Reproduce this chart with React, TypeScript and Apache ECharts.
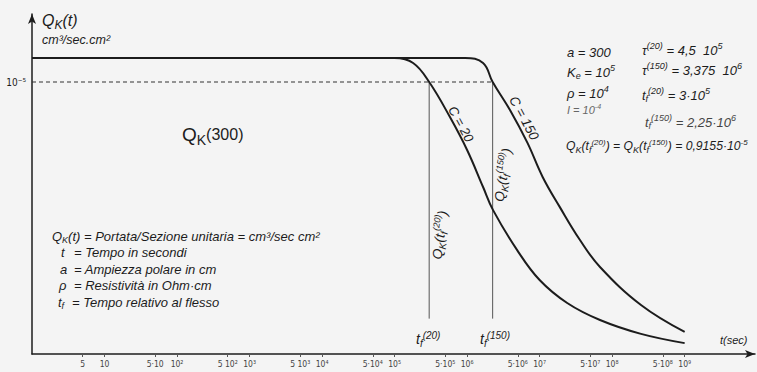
import React, { useEffect, useRef } from 'react';
import * as echarts from 'echarts';

// time (s) and Q_K (cm3/sec cm2)
const tC20 = [1, 1e5, 1.8e5, 3e5, 5.8e5, 1e6, 1.66e6, 2.28e6, 4.9e6, 1e7, 2.4e7, 6.8e7, 2.5e8, 1e9];
const qC20 = [1.088e-5, 1.088e-5, 1.07e-5, 1.0e-5, 0.871e-5, 0.75e-5, 0.614e-5, 0.529e-5, 0.382e-5, 0.272e-5, 0.1875e-5, 0.125e-5, 0.074e-5, 0.04e-5];
const tC150 = [1, 9.4e5, 1.66e6, 2.25e6, 3.9e6, 6.8e6, 1.1e7, 1.9e7, 3.6e7, 6.8e7, 2.5e8, 1e9];
const qC150 = [1.088e-5, 1.088e-5, 1.07e-5, 1.0e-5, 0.897e-5, 0.776e-5, 0.651e-5, 0.54e-5, 0.419e-5, 0.32e-5, 0.18e-5, 0.081e-5];
const tf20 = 3e5;
const tf150 = 2.25e6;
const qRef = 1e-5;
const qVertEnd = 0.13e-5;
const xTickTimes = [5, 10, 50, 100, 500, 1e3, 5e3, 1e4, 5e4, 1e5, 5e5, 1e6, 5e6, 1e7, 5e7, 1e8, 5e8, 1e9];
const xTickLabels = ['5', '10', '5·10', '10²', '5 10²', '10³', '5 10³', '10⁴', '5·10⁴', '10⁵', '5·10⁵', '10⁶', '5·10⁶', '10⁷', '5·10⁷', '10⁸', '5·10⁸', '10⁹'];
const yTickValues = [1e-5];
const yTickLabels = ['10⁻⁵'];

const INK = '#1c1c1c';
const F = '"Liberation Sans", Arial, "DejaVu Sans", sans-serif';
const FN = '"Liberation Sans Narrow", "DejaVu Sans Condensed", "DejaVu Sans", sans-serif';

function rich(fs: number, italic: boolean, color: string) {
  const base = { fontFamily: F, fontStyle: italic ? 'italic' : 'normal', fill: color };
  return {
    n: { ...base, fontSize: fs, lineHeight: Math.round(fs * 1.3) },
    m: { ...base, fontSize: Math.round(fs * 0.85), lineHeight: Math.round(fs * 1.3) },
    b: { ...base, fontSize: Math.round(fs * 0.72), lineHeight: 1, verticalAlign: 'bottom' },
    p: { ...base, fontSize: Math.round(fs * 0.68), lineHeight: 1, verticalAlign: 'top' },
  };
}

function txt(x: number, y: number, text: string, fs: number, opts: any = {}) {
  const color = opts.color || INK;
  return {
    type: 'text',
    x,
    y,
    rotation: opts.rot || 0,
    z: 100,
    style: {
      text,
      rich: rich(fs, opts.italic === undefined ? true : opts.italic, color),
      align: opts.align || 'left',
      verticalAlign: 'middle',
      fill: color,
      fontSize: fs,
      fontFamily: F,
    },
  };
}

export default function App() {
  const ref = useRef<HTMLDivElement>(null);
  useEffect(() => {
    if (!ref.current) return;
    const chart = echarts.init(ref.current, null, { renderer: 'svg' });
    const lg = Math.log10;
    const c20 = tC20.map((t, i) => [lg(t), qC20[i]]);
    const c150 = tC150.map((t, i) => [lg(t), qC150[i]]);
    const L = 13;
    const P = 13;
    const graphics = [
      txt(42, 20, '{n|Q}{b|K}{n|(t)}', 16),
      txt(42, 40, '{n|cm³/sec.cm²}', 12.5),
      txt(182, 134, '{n|Q}{b|K}{m|(300)}', 19, { italic: false }),
      txt(52, 236, '{n|Q}{b|K}{n|(t) = Portata/Sezione unitaria = cm³/sec cm²}', L),
      txt(61, 252.5, '{n|t}', L),
      txt(74, 252.5, '{n|= Tempo in secondi}', L),
      txt(60, 269, '{n|a}', L),
      txt(74, 269, '{n|= Ampiezza polare in cm}', L),
      txt(59, 285.5, '{n|ρ}', L),
      txt(74, 285.5, '{n|= Resistività in Ohm·cm}', L),
      txt(58, 302, '{n|t}{b|f}', L),
      txt(72, 302, '{n|= Tempo relativo al flesso}', L),
      txt(567, 52, '{n|a = 300}', P),
      txt(567, 72, '{n|K}{b|e}{n| = 10}{p|5}', P),
      txt(567, 93, '{n|ρ = 10}{p|4}', P),
      txt(567, 110, '{n|I = 10}{p|-4}', 11, { color: '#666' }),
      txt(642, 50, '{n|τ}{p|(20)}{n| = 4,5  10}{p|5}', P),
      txt(642, 70, '{n|τ}{p|(150)}{n| = 3,375  10}{p|6}', P),
      txt(642, 95, '{n|t}{b|f}{p|(20)}{n| = 3·10}{p|5}', P),
      txt(645, 122, '{n|t}{b|f}{p|(150)}{n| = 2,25·10}{p|6}', P, { color: '#444' }),
      txt(566, 146, '{n|Q}{b|K}{n|(t}{b|f}{p|(20)}{n|) = Q}{b|K}{n|(t}{b|f}{p|(150)}{n|) = 0,9155·10}{p|-5}', 12.2),
      txt(461, 124, '{n|C = 20}', 13, { align: 'center', rot: -1.07 }),
      txt(524, 118, '{n|C = 150}', 13.5, { align: 'center', rot: -1.08 }),
      txt(440, 235, '{n|Q}{b|K}{n|(t}{b|f}{p|(20)}{n|)}', 13.5, { align: 'center', rot: 1.45 }),
      txt(503, 175, '{n|Q}{b|K}{n|(t}{b|f}{p|(150)}{n|)}', 13.5, { align: 'center', rot: 1.42 }),
      txt(416, 339, '{n|t}{b|f}{p|(20)}', 14),
      txt(480, 339, '{n|t}{b|f}{p|(150)}', 14),
      txt(720, 340, '{n|t(sec)}', 11),
    ];
    chart.setOption({
      animation: false,
      backgroundColor: '#f4f4f4',
      grid: { left: 32, right: 2, top: 14, bottom: 18, containLabel: false },
      xAxis: {
        type: 'value',
        min: 0,
        max: 9.97,
        axisLine: { show: true, symbol: ['none', 'arrow'], symbolSize: [6, 10], lineStyle: { color: INK, width: 1.5 } },
        axisTick: { show: true, customValues: xTickTimes.map(lg), length: 3, lineStyle: { color: '#555' } },
        axisLabel: {
          customValues: xTickTimes.map(lg),
          fontSize: 8.5,
          color: '#444',
          margin: 5,
          fontFamily: FN,
          formatter: (v: number) => {
            const i = xTickTimes.findIndex((t) => Math.abs(lg(t) - v) < 1e-6);
            return i >= 0 ? xTickLabels[i] : '';
          },
        },
        splitLine: { show: false },
      },
      yAxis: {
        type: 'value',
        min: 0,
        max: 1.25e-5,
        axisLine: { show: true, symbol: ['none', 'arrow'], symbolSize: [6, 10], lineStyle: { color: INK, width: 1.5 } },
        axisTick: { show: false },
        axisLabel: {
          customValues: yTickValues,
          fontSize: 10,
          color: INK,
          margin: 6,
          fontFamily: FN,
          formatter: (v: number) => {
            const i = yTickValues.findIndex((q) => Math.abs(q - v) < 1e-9);
            return i >= 0 ? yTickLabels[i] : '';
          },
        },
        splitLine: { show: false },
      },
      series: [
        {
          type: 'line',
          data: [[0, qRef], [lg(tf150), qRef]],
          symbol: 'none',
          lineStyle: { color: '#333', width: 1, type: [4, 3] },
          z: 2,
        },
        {
          type: 'line',
          data: [[lg(tf20), qRef], [lg(tf20), qVertEnd]],
          symbol: 'none',
          lineStyle: { color: '#555', width: 1 },
          z: 2,
        },
        {
          type: 'line',
          data: [[lg(tf150), qRef], [lg(tf150), qVertEnd]],
          symbol: 'none',
          lineStyle: { color: '#555', width: 1 },
          z: 2,
        },
        {
          name: 'C = 20',
          type: 'line',
          data: c20,
          symbol: 'none',
          smooth: 0.4,
          lineStyle: { color: INK, width: 2 },
          z: 3,
        },
        {
          name: 'C = 150',
          type: 'line',
          data: c150,
          symbol: 'none',
          smooth: 0.4,
          lineStyle: { color: INK, width: 2 },
          z: 3,
        },
      ],
      graphic: graphics,
    });
    return () => chart.dispose();
  }, []);
  return <div ref={ref} style={{ position: 'fixed', left: 0, top: 0, width: 757, height: 372 }} />;
}
